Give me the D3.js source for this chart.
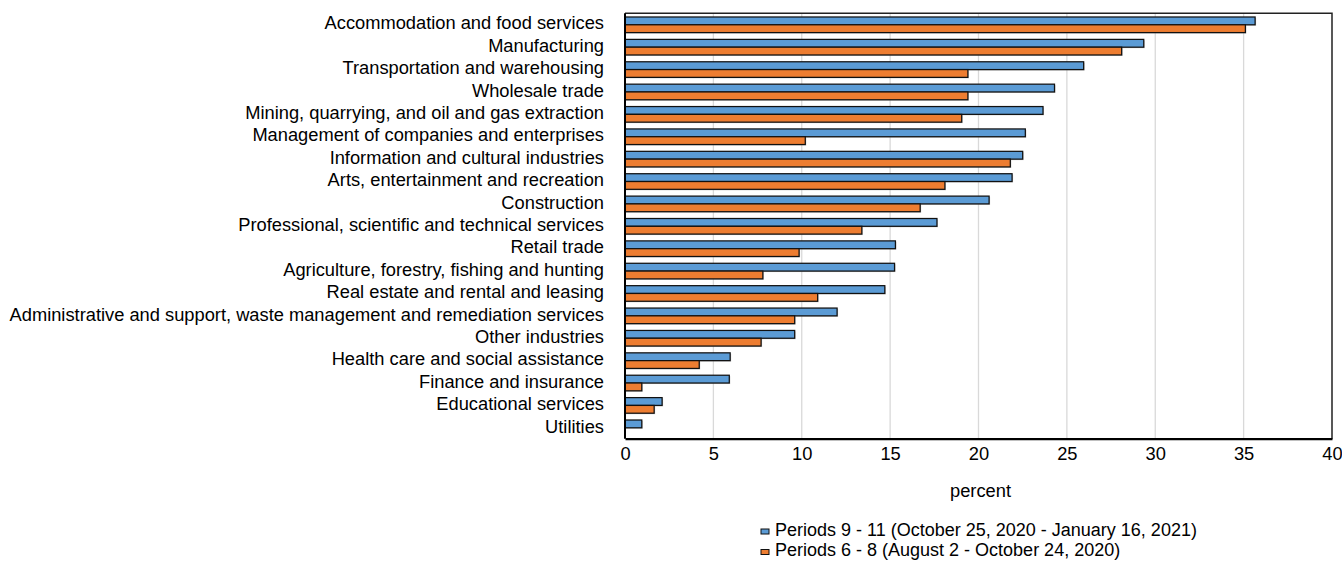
<!DOCTYPE html>
<html>
<head>
<meta charset="utf-8">
<script src="https://cdn.jsdelivr.net/npm/d3@7"></script>
<style>
  html, body { margin: 0; padding: 0; background: #fff; }
  svg text { font-family: "Liberation Sans", Arial, sans-serif; fill: #000; }
</style>
</head>
<body>
<svg id="chart" width="1342" height="561"></svg>
<script>
const categories = [
  "Accommodation and food services",
  "Manufacturing",
  "Transportation and warehousing",
  "Wholesale trade",
  "Mining, quarrying, and oil and gas extraction",
  "Management of companies and enterprises",
  "Information and cultural industries",
  "Arts, entertainment and recreation",
  "Construction",
  "Professional, scientific and technical services",
  "Retail trade",
  "Agriculture, forestry, fishing and hunting",
  "Real estate and rental and leasing",
  "Administrative and support, waste management and remediation services",
  "Other industries",
  "Health care and social assistance",
  "Finance and insurance",
  "Educational services",
  "Utilities"
];
const seriesNames = [
  "Periods 9 - 11 (October 25, 2020 - January 16, 2021)",
  "Periods 6 - 8 (August 2 - October 24, 2020)"
];
const periods9to11 = [35.65, 29.35, 25.95, 24.3, 23.65, 22.65, 22.5, 21.9, 20.6, 17.65, 15.3, 15.25, 14.7, 12.0, 9.6, 5.95, 5.9, 2.1, 0.95];
const periods6to8 = [35.1, 28.1, 19.4, 19.4, 19.05, 10.2, 21.8, 18.1, 16.7, 13.4, 9.85, 7.8, 10.9, 9.6, 7.7, 4.2, 0.95, 1.65, 0];
const xTicks = [0, 5, 10, 15, 20, 25, 30, 35, 40];
const xTitle = "percent";
const colors = ["#5b9bd5", "#ed7d31"];

const FS = 18.3;
const svg = d3.select("#chart");
const m = { left: 625, right: 1332, top: 13.3, bottom: 438.7 };

const x = d3.scaleLinear().domain([0, 40]).range([m.left, m.right]);
const y = d3.scaleBand().domain(categories).range([m.top, m.bottom]).paddingInner(0).paddingOuter(0);
const groupH = 15.6;
const y1 = d3.scaleBand().domain([0, 1]).range([0, groupH]);

// gridlines
svg.append("g").selectAll("line")
  .data(xTicks.filter(t => t > 0 && t < 40))
  .join("line")
  .attr("x1", d => x(d)).attr("x2", d => x(d))
  .attr("y1", m.top).attr("y2", m.bottom)
  .attr("stroke", "#d9d9d9").attr("stroke-width", 1.3);

// frame top/right
svg.append("path")
  .attr("d", `M${m.left},${m.top}H${m.right}V${m.bottom}`)
  .attr("fill", "none").attr("stroke", "#222").attr("stroke-width", 1.5);

const data = categories.map((c, i) => ({ c, vals: [periods9to11[i], periods6to8[i]] }));

const groups = svg.append("g").selectAll("g")
  .data(data).join("g")
  .attr("transform", d => `translate(0,${y(d.c) + (y.bandwidth() - groupH) / 2 + 0.3})`);

// shadows
groups.selectAll("rect.sh")
  .data(d => d.vals.map((v, k) => ({ v, k })).filter(e => e.v > 0))
  .join("rect").attr("class", "sh")
  .attr("x", x(0) + 1).attr("y", e => y1(e.k) + 1)
  .attr("width", e => x(e.v) - x(0)).attr("height", y1.bandwidth())
  .attr("fill", "#999").attr("opacity", 0.5);

groups.selectAll("rect.bar")
  .data(d => d.vals.map((v, k) => ({ v, k })).filter(e => e.v > 0))
  .join("rect").attr("class", "bar")
  .attr("x", x(0)).attr("y", e => y1(e.k))
  .attr("width", e => x(e.v) - x(0)).attr("height", y1.bandwidth())
  .attr("fill", e => colors[e.k]).attr("stroke", "#111").attr("stroke-width", 1.25);

// category labels
svg.append("g").selectAll("text")
  .data(categories).join("text")
  .attr("x", 604).attr("y", d => y(d) + y.bandwidth() / 2 + 5)
  .attr("text-anchor", "end").attr("font-size", FS)
  .text(d => d);

// axes lines
svg.append("line").attr("x1", m.left).attr("x2", m.left).attr("y1", m.top).attr("y2", m.bottom)
  .attr("stroke", "#000").attr("stroke-width", 2);
const xAxis = d3.axisBottom(x).tickValues(xTicks).tickSize(0).tickPadding(0);
const gx = svg.append("g").attr("transform", `translate(0,${m.bottom})`).call(xAxis);
gx.select(".domain").attr("stroke", "#000").attr("stroke-width", 2.2);
gx.selectAll("text").attr("font-size", FS).attr("dy", null).attr("y", 21.5)
  .style("font-family", '"Liberation Sans", Arial, sans-serif').attr("fill", "#000");

svg.append("text").attr("x", (m.left + m.right) / 2 + 2).attr("y", 497)
  .attr("text-anchor", "middle").attr("font-size", FS).text(xTitle);

// legend
const LFS = 18;
const leg = svg.append("g").selectAll("g").data(seriesNames).join("g")
  .attr("transform", (d, i) => `translate(761,${535.5 + i * 20.5})`);
leg.append("rect").attr("x", 0).attr("y", -6.5).attr("width", 8).attr("height", 5)
  .attr("fill", (d, i) => colors[i]).attr("stroke", "#111").attr("stroke-width", 1);
leg.append("text").attr("x", 14).attr("y", 0).attr("font-size", LFS).text(d => d);
</script>
</body>
</html>
